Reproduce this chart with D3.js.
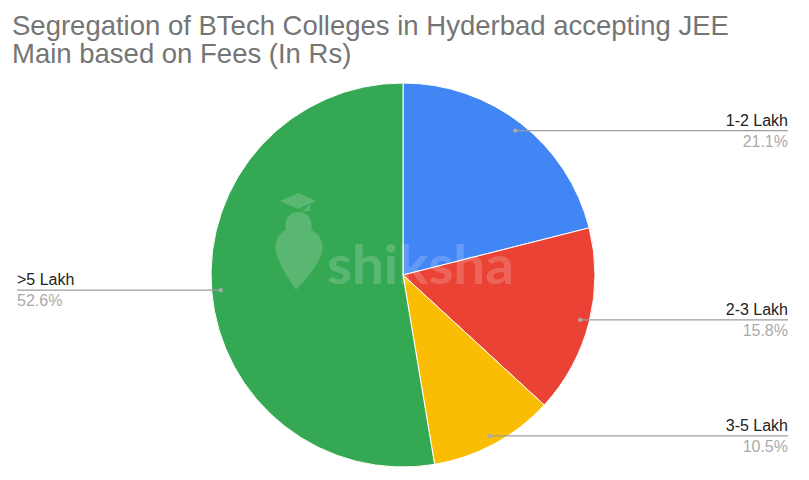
<!DOCTYPE html>
<html>
<head>
<meta charset="utf-8">
<script src="https://cdn.jsdelivr.net/npm/d3@7"></script>
<style>
  body { margin: 0; background: #fff; }
  svg { display: block; font-family: "Liberation Sans", Arial, sans-serif; }
</style>
</head>
<body>
<div id="chart"></div>
<script>
// data
var categories = ["1-2 Lakh", "2-3 Lakh", "3-5 Lakh", ">5 Lakh"];
var colleges = [4, 3, 2, 10];
var colors = ["#4285f4", "#ea4335", "#fbbc04", "#34a853"];
var titleLines = ["Segregation of BTech Colleges in Hyderbad accepting JEE", "Main based on Fees (In Rs)"];

var width = 809,
    height = 480;

var cx = 403, cy = 275, radius = 192;

var svg = d3.select("#chart")
    .append("svg")
    .attr("width", width)
    .attr("height", height);

// title
svg.append("g").selectAll("text")
    .data(titleLines)
    .enter()
    .append("text")
    .attr("x", 12)
    .attr("y", (d, i) => 35 + i * 28)
    .attr("font-size", 27.5)
    .attr("fill", "#757575")
    .text(d => d);

var total = d3.sum(colleges);
var data = categories.map((c, i) => ({ label: c, value: colleges[i], color: colors[i] }));

var pie = d3.pie().sort(null).value(d => d.value);
var arc = d3.arc().innerRadius(0).outerRadius(radius);
var arcs = pie(data);

var g = svg.append("g").attr("transform", `translate(${cx},${cy})`);

g.selectAll("path")
    .data(arcs)
    .enter()
    .append("path")
    .attr("d", arc)
    .attr("fill", d => d.data.color)
    .attr("stroke", "#fff")
    .attr("stroke-width", 1);

// watermark
var wm = svg.append("g").attr("opacity", 0.18).attr("fill", "#fff");
wm.append("path")
    .attr("d", "M298,193 L316,201 L298,209 L280,201 Z M310,204 L310,211 L302,212 Z");
wm.append("path")
    .attr("d", "M298,212 C287,212 284,222 286,230 C278,234 274,242 276,252 C280,268 290,280 296,290 C304,280 318,268 322,252 C324,242 320,234 311,230 C313,222 310,212 298,212 Z M298,238 L294,270 L298,278 L302,270 Z");
wm.append("text")
    .attr("x", 327)
    .attr("y", 284)
    .attr("font-size", 54)
    .attr("font-weight", "bold")
    .attr("font-family", "Lato, Roboto, sans-serif")
    .attr("textLength", 187)
    .attr("lengthAdjust", "spacingAndGlyphs")
    .text("shiksha");

// leader lines + labels
var inner = radius * 0.953;
var labelX = { right: 788, left: 17 };

var labels = svg.append("g").selectAll("g")
    .data(arcs)
    .enter()
    .append("g");

labels.each(function (d) {
    var a = (d.startAngle + d.endAngle) / 2;
    var px = cx + inner * Math.sin(a),
        py = cy - inner * Math.cos(a);
    var right = a < Math.PI;
    var ex = right ? labelX.right : labelX.left;
    var sel = d3.select(this);
    sel.append("line")
        .attr("x1", px).attr("y1", py)
        .attr("x2", ex).attr("y2", py)
        .attr("stroke", "#9e9e9e")
        .attr("stroke-width", 1.3);
    sel.append("circle")
        .attr("cx", px).attr("cy", py).attr("r", 2.2)
        .attr("fill", "#aaa");
    sel.append("text")
        .attr("x", ex).attr("y", py - 5)
        .attr("text-anchor", right ? "end" : "start")
        .attr("font-size", 16)
        .attr("fill", "#222")
        .text(d.data.label);
    sel.append("text")
        .attr("x", ex).attr("y", py + 16)
        .attr("text-anchor", right ? "end" : "start")
        .attr("font-size", 16)
        .attr("fill", "#aaaaaa")
        .text(d3.format(".1%")(d.value / total));
});
</script>
</body>
</html>
